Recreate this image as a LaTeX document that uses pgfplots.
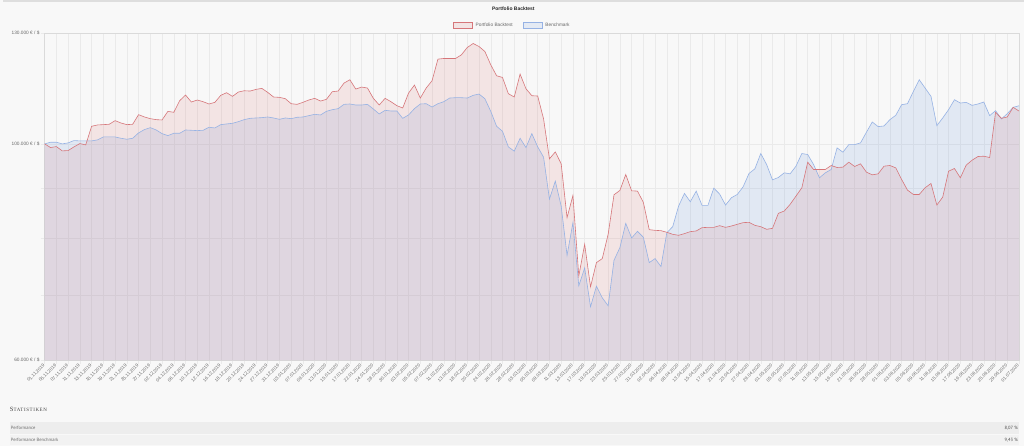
\documentclass[border=0pt]{standalone}
\usepackage{fontspec}
\setmainfont{Liberation Sans}
\newfontfamily\serifsc{Liberation Serif}
\newfontfamily\narrow{PT Sans}
\usepackage{pgfplots}
\pgfplotsset{compat=1.18}
\usepgfplotslibrary{fillbetween}
\usepackage{pgfplotstable}
\definecolor{bg}{RGB}{248,248,248}
\definecolor{topc}{RGB}{222,222,222}
\definecolor{gridc}{RGB}{234,234,234}
\definecolor{axc}{RGB}{218,218,218}
\definecolor{redline}{RGB}{214,118,122}
\definecolor{redfill}{RGB}{215,110,110}
\definecolor{blueline}{RGB}{150,178,228}
\definecolor{bluefill}{RGB}{115,155,221}
\definecolor{redleg}{RGB}{243,228,228}
\definecolor{blueleg}{RGB}{228,234,244}
\definecolor{labc}{RGB}{105,105,105}
\definecolor{rowa}{RGB}{237,237,237}
\definecolor{rowb}{RGB}{242,242,242}

\pgfplotstableread{
i p b
0 100000 100000
1 99140 100390
2 99370 100390
3 98360 100000
4 98440 100240
5 99300 100790
6 100080 100710
7 99760 100710
8 104250 100710
9 104580 100950
10 104660 101660
11 104750 101660
12 105650 101660
13 105070 101340
14 104660 101110
15 104750 101340
16 107160 102630
17 106570 103440
18 106150 103920
19 105900 103350
20 105820 102460
21 108000 101980
22 107750 102540
23 110750 102540
24 112240 103350
25 110400 103270
26 110930 103190
27 110490 103270
28 109890 104010
29 110320 103840
30 112160 104660
31 112860 104830
32 111890 104990
33 113040 105400
34 113390 105900
35 113300 106230
36 113750 106320
37 114020 106400
38 112950 106570
39 111720 106320
40 111630 105980
41 111280 106320
42 109970 106150
43 109800 106490
44 110320 106570
45 110930 106910
46 111370 107240
47 110660 107080
48 111100 108000
49 113130 108430
50 113300 108690
51 115460 109800
52 116370 109890
53 113840 109630
54 114380 109630
55 114110 109800
56 111370 108600
57 109630 107330
58 111370 108260
59 110490 108090
60 109460 108090
61 108860 106230
62 112770 107080
63 114920 108690
64 111450 109890
65 114110 109970
66 116100 109110
67 122180 109970
68 122370 110490
69 122370 111450
70 122370 111540
71 123430 111540
72 125590 111450
73 126780 112160
74 125890 112510
75 124410 111280
76 120560 108000
77 117470 104250
78 117010 103030
79 112600 99300
80 111720 98290
81 117940 101340
82 113930 99140
83 112070 102460
84 111980 99300
85 106070 96910
86 96530 87770
87 98130 91570
88 95400 86330
89 84000 76860
90 88530 83020
91 73200 71500
92 78880 74600
93 71330 68050
94 75540 71450
95 76260 69510
96 80760 68210
97 88670 75960
98 89580 78260
99 93020 82880
100 89510 80060
101 89440 81330
102 87090 80190
103 81650 75540
104 81520 76260
105 81460 74840
106 81140 81080
107 80760 82230
108 80570 86330
109 80890 88950
110 81270 87220
111 81400 89440
112 82040 86470
113 82100 86470
114 82100 90080
115 82430 88810
116 82100 86540
117 82360 88050
118 82690 88740
119 83020 90360
120 83080 93250
121 82490 94280
122 82230 97750
123 81720 95240
124 81910 91860
125 84860 92370
126 85330 93390
127 86680 93170
128 88400 94870
129 90150 97750
130 95770 97520
131 94130 95240
132 94130 92300
133 94130 93390
134 95020 94130
135 94580 99060
136 94650 98060
137 95770 99840
138 94800 99840
139 95400 100240
140 93540 102790
141 92950 105320
142 93170 104170
143 94870 104330
144 95020 105900
145 94500 106990
146 91930 109710
147 89650 109970
148 88740 113210
149 88740 116370
150 90150 114110
151 91070 111890
152 86540 104410
153 88190 106320
154 93760 108430
155 94350 111010
156 92300 110140
157 95100 110320
158 96220 109540
159 97060 109890
160 97130 110400
161 96830 106910
162 107750 108170
163 106230 106070
164 106570 107410
165 109030 109030
166 108070 109430
}\data

\begin{document}
\pagecolor{bg}
\begin{tikzpicture}
\begin{scope}[x=1bp,y=1bp]
\useasboundingbox (0,0) rectangle (1024,447);
\fill[topc] (0,445) rectangle (1024,447);
\node[font=\bfseries\fontsize{5}{6}\selectfont, text=black!85] at (512,438) {Portfolio Backtest};
\draw[redline, fill=redleg, line width=0.7bp] (452,419) rectangle (471,425);
\node[anchor=west, font=\fontsize{4.8}{6}\selectfont, text=labc, inner sep=0pt] at (474,422) {Portfolio Backtest};
\draw[blueline, fill=blueleg, line width=0.7bp] (522,419) rectangle (541,425);
\node[anchor=west, font=\fontsize{4.8}{6}\selectfont, text=labc, inner sep=0pt] at (544,422) {Benchmark};
\end{scope}

\begin{axis}[
  at={(42bp,86bp)}, anchor=south west,
  width=977bp, height=328bp, scale only axis,
  xmin=0, xmax=166, ymin=60000, ymax=130000, ymode=log,
  xtick={0,2,...,166},
  xticklabels={01.11.2019,05.11.2019,07.11.2019,11.11.2019,13.11.2019,15.11.2019,19.11.2019,21.11.2019,25.11.2019,27.11.2019,02.12.2019,04.12.2019,06.12.2019,10.12.2019,12.12.2019,16.12.2019,18.12.2019,20.12.2019,24.12.2019,27.12.2019,31.12.2019,03.01.2020,07.01.2020,09.01.2020,13.01.2020,15.01.2020,17.01.2020,22.01.2020,24.01.2020,28.01.2020,30.01.2020,03.02.2020,05.02.2020,07.02.2020,11.02.2020,13.02.2020,18.02.2020,20.02.2020,24.02.2020,26.02.2020,28.02.2020,03.03.2020,05.03.2020,09.03.2020,11.03.2020,13.03.2020,17.03.2020,19.03.2020,23.03.2020,25.03.2020,27.03.2020,31.03.2020,02.04.2020,06.04.2020,08.04.2020,13.04.2020,15.04.2020,17.04.2020,21.04.2020,23.04.2020,27.04.2020,29.04.2020,01.05.2020,05.05.2020,07.05.2020,11.05.2020,13.05.2020,15.05.2020,19.05.2020,21.05.2020,26.05.2020,28.05.2020,01.06.2020,03.06.2020,05.06.2020,09.06.2020,11.06.2020,15.06.2020,17.06.2020,19.06.2020,23.06.2020,25.06.2020,29.06.2020,01.07.2020},
  ytick={60000,70000,80000,90000,100000,130000},
  yticklabels={60.000 € / \$,,,,100.000 € / \$,130.000 € / \$},
  xtick pos=bottom, ytick pos=left,
  xmajorgrids, ymajorgrids,
  major grid style={gridc, line width=0.45bp},
  axis line style={axc, line width=0.6bp},
  tick style={gridc, line width=0.45bp},
  major tick length=4bp, tick align=outside,
  x tick label style={rotate=45, anchor=east, font=\fontsize{4.6}{5}\selectfont, text=labc, inner sep=1bp},
  y tick label style={font=\fontsize{4.8}{5}\selectfont, text=labc, inner sep=1bp},
]
\addplot[draw=none, name path=base, forget plot] coordinates {(0,60000) (166,60000)};
\addplot[blueline, line width=0.6bp, mark=none, name path=bl] table[x=i,y=b]{\data};
\addplot[redline, line width=0.6bp, mark=none, name path=rl] table[x=i,y=p]{\data};
\addplot[bluefill, fill opacity=0.17, draw=none, forget plot] fill between[of=bl and base];
\addplot[redfill, fill opacity=0.14, draw=none, forget plot] fill between[of=rl and base];
\end{axis}

\begin{scope}[x=1bp,y=1bp]
\node[anchor=west, inner sep=0pt, text=black!75, font=\serifsc\addfontfeature{LetterSpace=12}] at (7,36) {\fontsize{6.5}{7}\selectfont S\fontsize{5}{6}\selectfont TATISTIKEN};
\fill[rowa] (7,12) rectangle (1019,24);
\fill[rowb] (7,1) rectangle (1019,11);
\node[anchor=west, inner sep=0pt, text=labc, font=\narrow\fontsize{4.6}{5}\selectfont] at (8,18) {Performance};
\node[anchor=east, inner sep=0pt, text=black!70, font=\narrow\fontsize{4.6}{5}\selectfont] at (1018,18) {8,07 \%};
\node[anchor=west, inner sep=0pt, text=labc, font=\narrow\fontsize{4.6}{5}\selectfont] at (8,6) {Performance Benchmark};
\node[anchor=east, inner sep=0pt, text=black!70, font=\narrow\fontsize{4.6}{5}\selectfont] at (1018,6) {9,43 \%};
\end{scope}
\end{tikzpicture}
\end{document}
